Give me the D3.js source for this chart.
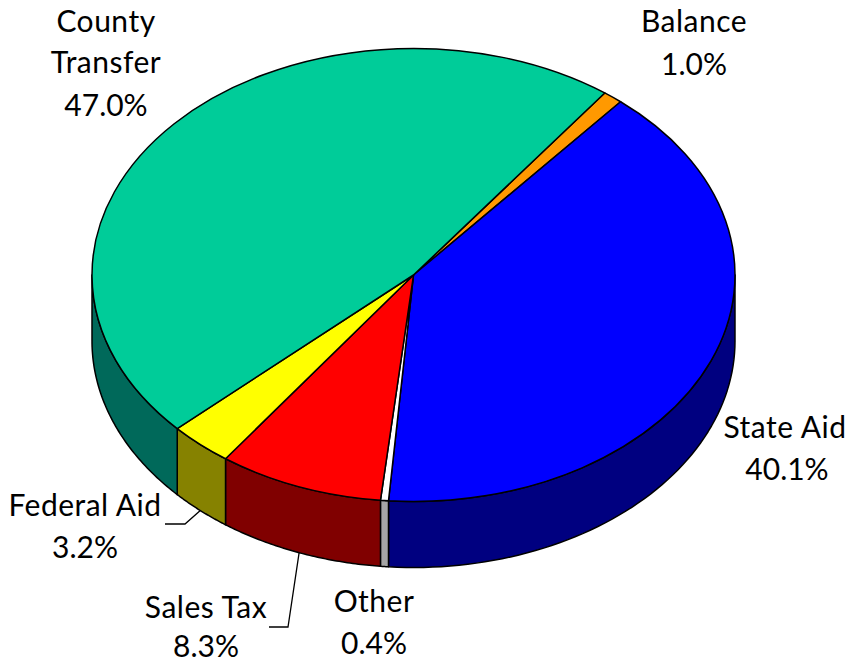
<!DOCTYPE html>
<html>
<head>
<meta charset="utf-8">
<style>
  html, body { margin: 0; padding: 0; background: #fff; }
  svg { display: block; }
  text { font-family: "Lato", sans-serif; font-size: 30px; fill: #000; text-anchor: middle; }
  text.name { letter-spacing: 0.5px; }
</style>
<script src="https://cdn.jsdelivr.net/npm/d3@7"></script>
</head>
<body>
<svg id="chart" width="847" height="664"></svg>
<script>
// Revenue shares, clockwise from the upper right of the disc
const categories = ["Balance", "State Aid", "Other", "Sales Tax", "Federal Aid", "County Transfer"];
const shares = [1.0, 40.1, 0.4, 8.3, 3.2, 47.0];
const topColors = ["#FF9900", "#0000FF", "#FFFFFF", "#FF0000", "#FFFF00", "#00CC99"];
const wallColors = ["#804D00", "#000080", "#A6A6A6", "#800000", "#868200", "#00695A"];

// Geometry of the tilted disc
const cx = 413.5, cy = 275, rx = 321.5, ry = 226.5, depth = 66;
const startDeg = 36.5;

const svg = d3.select("#chart");
const tau = 2 * Math.PI;

const pie = d3.pie().sort(null)
  .startAngle(startDeg * Math.PI / 180)
  .endAngle(startDeg * Math.PI / 180 + tau);
const arcs = pie(shares);

// Point on the rim for an angle measured clockwise from the top
const rimX = a => cx + rx * Math.sin(a);
const rimY = a => cy - ry * Math.cos(a);

const line = d3.line();

// Front wall of a slice: the part of its rim facing the viewer
function wallPath(d) {
  const spans = [[d.startAngle, d.endAngle], [d.startAngle - tau, d.endAngle - tau]];
  const parts = [];
  for (const [a0, a1] of spans) {
    const lo = Math.max(a0, Math.PI / 2), hi = Math.min(a1, 3 * Math.PI / 2);
    if (hi <= lo) continue;
    const angles = d3.range(0, 61).map(i => lo + (hi - lo) * i / 60);
    const upper = angles.map(a => [rimX(a), rimY(a)]);
    const lower = angles.slice().reverse().map(a => [rimX(a), rimY(a) + depth]);
    parts.push(line(upper.concat(lower)) + "Z");
  }
  return parts.join("");
}

svg.append("g").selectAll("path")
  .data(arcs)
  .join("path")
  .attr("d", wallPath)
  .attr("fill", (d, i) => wallColors[i])
  .attr("stroke", "#000")
  .attr("stroke-width", 1.5)
  .attr("stroke-linejoin", "round");

// Top face: a circular pie squashed vertically into the ellipse
const arcGen = d3.arc().innerRadius(0).outerRadius(rx);
svg.append("g")
  .attr("transform", `translate(${cx},${cy}) scale(1,${ry / rx})`)
  .selectAll("path")
  .data(arcs)
  .join("path")
  .attr("d", arcGen)
  .attr("fill", (d, i) => topColors[i])
  .attr("stroke", "#000")
  .attr("stroke-width", 1.5)
  .attr("stroke-linejoin", "round")
  .attr("vector-effect", "non-scaling-stroke");

// Label placement: baseline of the name and of the percentage, plus centre x
const labelLayout = {
  "Balance":         { x: 694, lines: [["Balance", 32]], pct: 75 },
  "State Aid":       { x: 787, nameX: 785, lines: [["State Aid", 438]], pct: 480 },
  "Other":           { x: 374, lines: [["Other", 612]], pct: 654 },
  "Sales Tax":       { x: 206, lines: [["Sales Tax", 618]], pct: 657 },
  "Federal Aid":     { x: 85,  lines: [["Federal Aid", 516]], pct: 558 },
  "County Transfer": { x: 106, lines: [["County", 32], ["Transfer", 73]], pct: 116 }
};

categories.forEach((name, i) => {
  const l = labelLayout[name];
  l.lines.forEach(([t, y]) => {
    svg.append("text").attr("class", "name").attr("x", l.nameX ?? l.x).attr("y", y).text(t);
  });
  svg.append("text").attr("x", l.x).attr("y", l.pct).text(d3.format(".1f")(shares[i]) + "%");
});

// Leader lines run from the label to the bottom rim at the slice's mid angle
const leaderElbows = {
  "Federal Aid": [[165, 524], [185, 524]],
  "Sales Tax":   [[269, 627], [288, 627]]
};
Object.entries(leaderElbows).forEach(([name, pts]) => {
  const d = arcs[categories.indexOf(name)];
  const mid = (d.startAngle + d.endAngle) / 2;
  svg.append("path")
    .attr("d", line(pts.concat([[rimX(mid), rimY(mid) + depth]])))
    .attr("fill", "none")
    .attr("stroke", "#000")
    .attr("stroke-width", 1.3);
});
</script>
</body>
</html>
